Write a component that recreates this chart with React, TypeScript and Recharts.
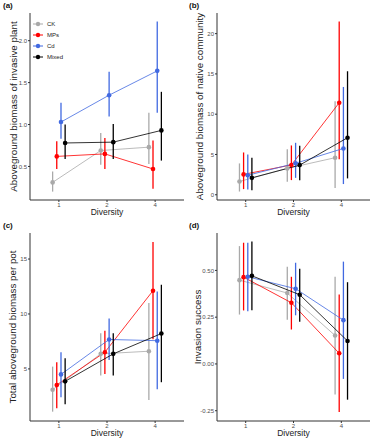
import { ComposedChart, ErrorBar, Legend, Line, XAxis, YAxis } from "recharts";

const groups = ["CK", "MPs", "Cd", "Mixed"];
const colors = ["#A9A9A9", "#FF0000", "#4169E1", "#000000"];
const diversityLevels = ["1", "2", "4"];
// position_dodge offsets, one per group (in category units)
const dodge = [-0.13, -0.044, 0.044, 0.13];

// rows: CK, MPs, Cd, Mixed ; columns: diversity 1, 2, 4
const invasiveMean = [
  [0.31, 0.69, 0.73],
  [0.62, 0.65, 0.47],
  [1.03, 1.35, 1.64],
  [0.78, 0.79, 0.93],
];
const invasiveLow = [
  [0.2, 0.52, 0.53],
  [0.47, 0.47, 0.235],
  [0.83, 1.095, 1.14],
  [0.59, 0.59, 0.57],
];
const invasiveHigh = [
  [0.44, 0.9, 1.14],
  [0.8, 0.84, 0.81],
  [1.26, 1.63, 2.23],
  [1.0, 1.005, 1.39],
];

const nativeMean = [
  [1.65, 3.27, 4.6],
  [2.53, 3.7, 11.42],
  [2.42, 3.91, 5.75],
  [2.1, 3.68, 7.08],
];
const nativeLow = [
  [0.4, 1.6, 0.85],
  [0.7, 1.82, 4.42],
  [0.65, 2.1, 1.33],
  [0.55, 1.8, 2.03],
];
const nativeHigh = [
  [3.89, 5.66, 11.62],
  [5.25, 6.12, 21.5],
  [5.0, 6.45, 13.38],
  [4.59, 6.07, 15.33],
];

const totalMean = [
  [3.11, 6.37, 6.61],
  [3.54, 6.52, 12.12],
  [4.5, 7.68, 7.57],
  [3.87, 6.37, 8.22],
];
const totalLow = [
  [1.11, 4.39, 2.17],
  [1.42, 4.54, 7.71],
  [2.42, 5.82, 3.15],
  [1.78, 4.39, 3.79],
];
const totalHigh = [
  [5.21, 8.25, 10.99],
  [5.61, 8.47, 16.55],
  [6.52, 9.59, 12.05],
  [5.98, 8.25, 12.66],
];

const successMean = [
  [0.448, 0.379, 0.152],
  [0.464, 0.327, 0.057],
  [0.466, 0.402, 0.234],
  [0.471, 0.37, 0.123],
];
const successLow = [
  [0.264, 0.236, -0.164],
  [0.286, 0.184, -0.257],
  [0.282, 0.26, -0.08],
  [0.287, 0.225, -0.191],
];
const successHigh = [
  [0.63, 0.52, 0.466],
  [0.648, 0.466, 0.371],
  [0.648, 0.541, 0.547],
  [0.654, 0.509, 0.437],
];

const font = "Arial, 'Liberation Sans', sans-serif";

const buildSeries = (means: number[][], lows: number[][], highs: number[][]) =>
  groups.map((_, gi) =>
    means[gi].map((m, i) => ({
      x: i + 1 + dodge[gi],
      y: m,
      err: [m - lows[gi][i], highs[gi][i] - m],
    }))
  );

const LegendBox = (props: any) => {
  const items = [...(props.payload || [])].sort(
    (a: any, b: any) => groups.indexOf(a.value) - groups.indexOf(b.value)
  );
  return (
    <div style={{ fontFamily: font, fontSize: 6, color: "#222" }}>
      {items.map((p: any) => (
        <div key={p.value} style={{ display: "flex", alignItems: "center", height: 10.9 }}>
          <svg width={10} height={6} style={{ marginRight: 4 }}>
            <line x1={0} x2={10} y1={3} y2={3} stroke={p.color} strokeWidth={1} />
            <circle cx={5} cy={3} r={2.2} fill={p.color} />
          </svg>
          <span>{p.value}</span>
        </div>
      ))}
    </div>
  );
};

// rotated y-axis title, centred on the plot height
const yTitle = (text: string, cx: number) => (props: any) => {
  const vb = props.viewBox || { y: 13, height: 187 };
  const cy = vb.y + vb.height / 2;
  return (
    <text
      x={cx}
      y={cy}
      transform={`rotate(-90, ${cx}, ${cy})`}
      textAnchor="middle"
      dominantBaseline="central"
      fontSize={9.8}
      fill="#222"
      fontFamily={font}
    >
      {text}
    </text>
  );
};

interface PanelProps {
  tag: string;
  yLabel: string;
  means: number[][];
  lows: number[][];
  highs: number[][];
  domain: [number, number];
  yTicks: number[];
  digits: number;
  legend?: boolean;
  left: number;
  top: number;
  width: number;
  height: number;
  yAxisWidth: number;
  titleX: number;
}

const Panel = (p: PanelProps) => {
  const series = buildSeries(p.means, p.lows, p.highs);
  return (
    <div style={{ position: "absolute", left: p.left, top: p.top, width: p.width, height: p.height }}>
      <ComposedChart
        width={p.width}
        height={p.height}
        margin={{ top: 13, right: p.width - 184, bottom: 0, left: 0 }}
      >
        <XAxis
          type="number"
          dataKey="x"
          domain={[0.4, 3.6]}
          allowDataOverflow
          ticks={[1, 2, 3]}
          tickFormatter={(v: number) => diversityLevels[v - 1]}
          height={20}
          tickSize={2}
          tickMargin={1}
          stroke="#333"
          tick={{ fontSize: 6, fill: "#4d4d4d", fontFamily: font }}
          label={{
            value: "Diversity",
            position: "insideBottom",
            offset: 5,
            style: { fontSize: 8.5, fill: "#222", fontFamily: font },
          }}
        />
        <YAxis
          type="number"
          domain={p.domain}
          allowDataOverflow
          ticks={p.yTicks}
          tickFormatter={(v: number) => v.toFixed(p.digits)}
          width={p.yAxisWidth}
          tickSize={2}
          tickMargin={1}
          stroke="#333"
          tick={{ fontSize: 6, fill: "#4d4d4d", fontFamily: font }}
          label={yTitle(p.yLabel, p.titleX)}
        />
        {p.legend && (
          <Legend
            layout="vertical"
            align="center"
            verticalAlign="middle"
            content={LegendBox}
            wrapperStyle={{ left: 33, top: 19, width: 60 }}
          />
        )}
        {series.map((data, gi) => (
          <Line
            key={groups[gi]}
            data={data}
            dataKey="y"
            name={groups[gi]}
            type="linear"
            stroke={colors[gi]}
            strokeWidth={0.8}
            dot={{ r: 2.3, fill: colors[gi], stroke: "none" }}
            activeDot={false}
            isAnimationActive={false}
          >
            <ErrorBar dataKey="err" direction="y" width={0} stroke={colors[gi]} strokeWidth={1.3} />
          </Line>
        ))}
      </ComposedChart>
      <span
        style={{
          position: "absolute",
          left: 3,
          top: 1,
          fontFamily: font,
          fontWeight: "bold",
          fontSize: 8,
          color: "#111",
        }}
      >
        {p.tag}
      </span>
    </div>
  );
};

export default function App() {
  return (
    <div style={{ position: "absolute", left: 0, top: 0, width: 376, height: 442, background: "#fff" }}>
      <Panel
        tag="(a)"
        yLabel="Aboveground biomass of invasive plant"
        means={invasiveMean}
        lows={invasiveLow}
        highs={invasiveHigh}
        domain={[0.1, 2.33]}
        yTicks={[0.5, 1, 1.5, 2]}
        digits={1}
        legend
        left={0}
        top={0}
        width={186}
        height={220}
        yAxisWidth={30}
        titleX={13}
      />
      <Panel
        tag="(b)"
        yLabel="Aboveground biomass of native community"
        means={nativeMean}
        lows={nativeLow}
        highs={nativeHigh}
        domain={[-0.65, 22.56]}
        yTicks={[0, 5, 10, 15, 20]}
        digits={0}
        left={186}
        top={0}
        width={190}
        height={220}
        yAxisWidth={31}
        titleX={13}
      />
      <Panel
        tag="(c)"
        yLabel="Total aboveground biomass per pot"
        means={totalMean}
        lows={totalLow}
        highs={totalHigh}
        domain={[0.26, 17.37]}
        yTicks={[5, 10, 15]}
        digits={0}
        left={0}
        top={220}
        width={186}
        height={221}
        yAxisWidth={30}
        titleX={12}
      />
      <Panel
        tag="(d)"
        yLabel="Invasion success"
        means={successMean}
        lows={successLow}
        highs={successHigh}
        domain={[-0.305, 0.7]}
        yTicks={[-0.25, 0, 0.25, 0.5]}
        digits={2}
        left={186}
        top={220}
        width={190}
        height={221}
        yAxisWidth={31}
        titleX={11}
      />
    </div>
  );
}
